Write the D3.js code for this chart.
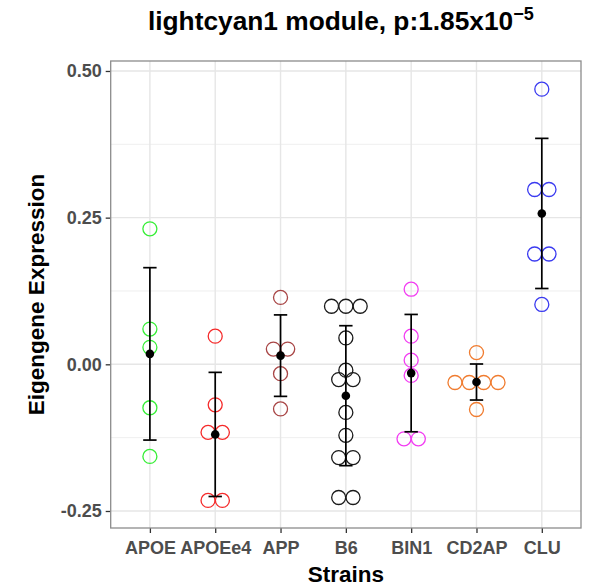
<!DOCTYPE html>
<html>
<head>
<meta charset="utf-8">
<script src="https://cdn.jsdelivr.net/npm/d3@7"></script>
<style>
  html, body { margin: 0; padding: 0; background: #ffffff; }
  svg { display: block; font-family: "Liberation Sans", Arial, Helvetica, sans-serif; }
</style>
</head>
<body>
<svg id="chart" width="592" height="586"></svg>
<script>
// Module eigengene expression per mouse strain
const strains = ["APOE", "APOEe4", "APP", "B6", "BIN1", "CD2AP", "CLU"];
const strainColors = ["#36ee36", "#f52a2a", "#a84545", "#1a1a1a", "#f23cf2", "#f07c30", "#3a3af0"];

const apoe   = [0.231, 0.060, 0.029, -0.074, -0.157];
const apoee4 = [0.048, -0.069, -0.116, -0.116, -0.232, -0.232];
const app    = [0.114, 0.026, 0.026, -0.016, -0.076];
const b6     = [0.099, 0.099, 0.099, 0.045, -0.010, -0.026, -0.026, -0.082, -0.121, -0.159, -0.159, -0.227, -0.227];
const bin1   = [0.128, 0.048, 0.007, -0.019, -0.127, -0.127];
const cd2ap  = [0.020, -0.031, -0.031, -0.031, -0.031, -0.077];
const clu    = [0.469, 0.298, 0.298, 0.188, 0.188, 0.102];
const seriesValues = [apoe, apoee4, app, b6, bin1, cd2ap, clu];

const yTicks = [-0.25, 0.00, 0.25, 0.50];
const yMinor = [-0.125, 0.125, 0.375];
const titleMain = "lightcyan1 module, p:1.85x10";
const titleExp = "\u22125";

const svg = d3.select("#chart");
const panel = { left: 110.7, right: 581, top: 61, bottom: 528 };

const x = d3.scalePoint().domain(strains).range([panel.left, panel.right]).padding(0.6);
const y = d3.scaleLinear().domain([-0.279, 0.517]).range([panel.bottom, panel.top]);
const color = d3.scaleOrdinal().domain(strains).range(strainColors);

// panel background and grid
svg.append("rect")
  .attr("x", panel.left).attr("y", panel.top)
  .attr("width", panel.right - panel.left).attr("height", panel.bottom - panel.top)
  .attr("fill", "#ffffff");

const grid = svg.append("g");
grid.selectAll("line.minor").data(yMinor).join("line")
  .attr("x1", panel.left).attr("x2", panel.right)
  .attr("y1", d => y(d)).attr("y2", d => y(d))
  .attr("stroke", "#efefef").attr("stroke-width", 1);
grid.selectAll("line.majory").data(yTicks).join("line")
  .attr("x1", panel.left).attr("x2", panel.right)
  .attr("y1", d => y(d)).attr("y2", d => y(d))
  .attr("stroke", "#e6e6e6").attr("stroke-width", 1.4);
grid.selectAll("line.majorx").data(strains).join("line")
  .attr("x1", d => x(d)).attr("x2", d => x(d))
  .attr("y1", panel.top).attr("y2", panel.bottom)
  .attr("stroke", "#e6e6e6").attr("stroke-width", 1.4);

// axes (plain hyphen for negative tick labels)
const fmt = d3.format(".2f");
const yAxis = svg.append("g")
  .attr("transform", `translate(${panel.left},0)`)
  .call(d3.axisLeft(y).tickValues(yTicks).tickFormat(d => fmt(d).replace("\u2212", "-")).tickSize(5).tickPadding(4));
const xAxis = svg.append("g")
  .attr("transform", `translate(0,${panel.bottom})`)
  .call(d3.axisBottom(x).tickSize(5).tickPadding(8));
[yAxis, xAxis].forEach(g => {
  g.select(".domain").remove();
  g.selectAll(".tick line").attr("stroke", "#333333").attr("stroke-width", 1.3);
  g.selectAll(".tick text")
    .attr("fill", "#4d4d4d")
    .attr("font-family", "'Liberation Sans', Arial, sans-serif")
    .attr("font-weight", "bold")
    .attr("font-size", 18);
});

// points: equal values sit side by side, centred on the strain
const dotR = 7;
const points = [];
strains.forEach((s, i) => {
  const groups = d3.group(seriesValues[i], v => v);
  groups.forEach((vals, v) => {
    vals.forEach((_, k) => {
      points.push({ strain: s, value: v, offset: (k - (vals.length - 1) / 2) * dotR * 2.05 });
    });
  });
});

svg.append("g").selectAll("circle").data(points).join("circle")
  .attr("cx", d => x(d.strain) + d.offset)
  .attr("cy", d => y(d.value))
  .attr("r", dotR)
  .attr("fill", "none")
  .attr("stroke", d => color(d.strain))
  .attr("stroke-width", 1.3);

// mean and standard deviation per strain
const summary = strains.map((s, i) => {
  const vals = seriesValues[i];
  return { strain: s, mean: d3.mean(vals), sd: d3.deviation(vals) };
});

const capHalf = 6.7;
const bars = svg.append("g").attr("stroke", "#000000").attr("stroke-width", 1.7);
bars.selectAll("line.v").data(summary).join("line")
  .attr("x1", d => x(d.strain)).attr("x2", d => x(d.strain))
  .attr("y1", d => y(d.mean + d.sd)).attr("y2", d => y(d.mean - d.sd));
bars.selectAll("line.top").data(summary).join("line")
  .attr("x1", d => x(d.strain) - capHalf).attr("x2", d => x(d.strain) + capHalf)
  .attr("y1", d => y(d.mean + d.sd)).attr("y2", d => y(d.mean + d.sd));
bars.selectAll("line.bottom").data(summary).join("line")
  .attr("x1", d => x(d.strain) - capHalf).attr("x2", d => x(d.strain) + capHalf)
  .attr("y1", d => y(d.mean - d.sd)).attr("y2", d => y(d.mean - d.sd));

svg.append("g").selectAll("circle").data(summary).join("circle")
  .attr("cx", d => x(d.strain)).attr("cy", d => y(d.mean))
  .attr("r", 4.3).attr("fill", "#000000");

// panel border
svg.append("rect")
  .attr("x", panel.left).attr("y", panel.top)
  .attr("width", panel.right - panel.left).attr("height", panel.bottom - panel.top)
  .attr("fill", "none").attr("stroke", "#8c8c8c").attr("stroke-width", 1.3);

// titles
const title = svg.append("text")
  .attr("x", (panel.left + panel.right) / 2 - 5)
  .attr("y", 30)
  .attr("text-anchor", "middle")
  .attr("font-weight", "bold")
  .attr("font-size", 26.3)
  .attr("fill", "#000000");
title.append("tspan").text(titleMain);
title.append("tspan").attr("font-size", 18).attr("dy", -10).text(titleExp);

svg.append("text")
  .attr("x", (panel.left + panel.right) / 2)
  .attr("y", 582)
  .attr("text-anchor", "middle")
  .attr("font-weight", "bold")
  .attr("font-size", 22.5)
  .attr("fill", "#000000")
  .text("Strains");

svg.append("text")
  .attr("transform", `translate(44,${(panel.top + panel.bottom) / 2}) rotate(-90)`)
  .attr("text-anchor", "middle")
  .attr("font-weight", "bold")
  .attr("font-size", 22.5)
  .attr("fill", "#000000")
  .text("Eigengene Expression");
</script>
</body>
</html>
